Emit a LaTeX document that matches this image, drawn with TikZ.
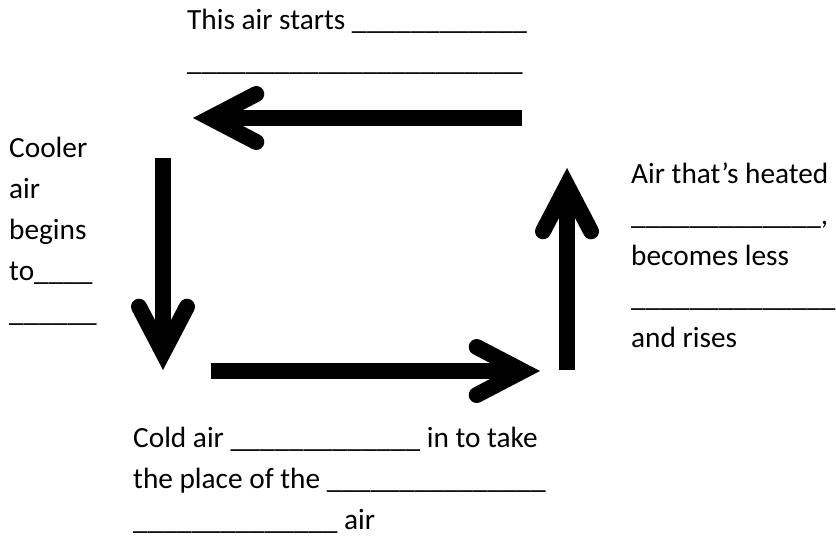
\documentclass[tikz,border=0pt]{standalone}
\usepackage{fontspec}
\setmainfont{Carlito}
\usetikzlibrary{arrows.meta}
\newcommand{\gap}[1]{\foreach \k in {1,...,#1}{\_}}
\tikzset{
  textblock/.style = {anchor=base west, inner sep=0pt, align=left,
                      font=\fontsize{29.3pt}{41pt}\selectfont},
  flow/.style      = {draw, line width=16pt,
                      -{Straight Barb[length=46pt, width=48pt,
                        line cap=round, line join=miter]}}
}
\begin{document}
\begin{tikzpicture}
  [
  x = 1pt, y = -1pt
  ]
  \useasboundingbox (0,0) rectangle (836,536);

  % texts round the cycle (placed at the baseline of their last line)
  \node[textblock] (top)    at (187,70)  {This air starts \gap{12}\\\gap{23}};
  \node[textblock] (left)   at (9,321)   {Cooler\\air\\begins\\to\gap{4}\\\gap{6}};
  \node[textblock] (right)  at (631,347) {Air that’s heated\\\gap{13},\\becomes less\\\gap{14}\\and rises};
  \node[textblock] (bottom) at (133,529) {Cold air \gap{13} in to take\\the place of the \gap{15}\\\gap{14} air};

  % arrow ends
  \coordinate (topR)  at (522,118);
  \coordinate (topL)  at (193,118);
  \coordinate (downT) at (163,158);
  \coordinate (downB) at (163,370);
  \coordinate (botL)  at (211,371);
  \coordinate (botR)  at (540,371);
  \coordinate (upB)   at (567,370);
  \coordinate (upT)   at (567,168);

  \draw[flow] (topR)  -- (topL);
  \draw[flow] (downT) -- (downB);
  \draw[flow] (botL)  -- (botR);
  \draw[flow] (upB)   -- (upT);
\end{tikzpicture}
\end{document}
